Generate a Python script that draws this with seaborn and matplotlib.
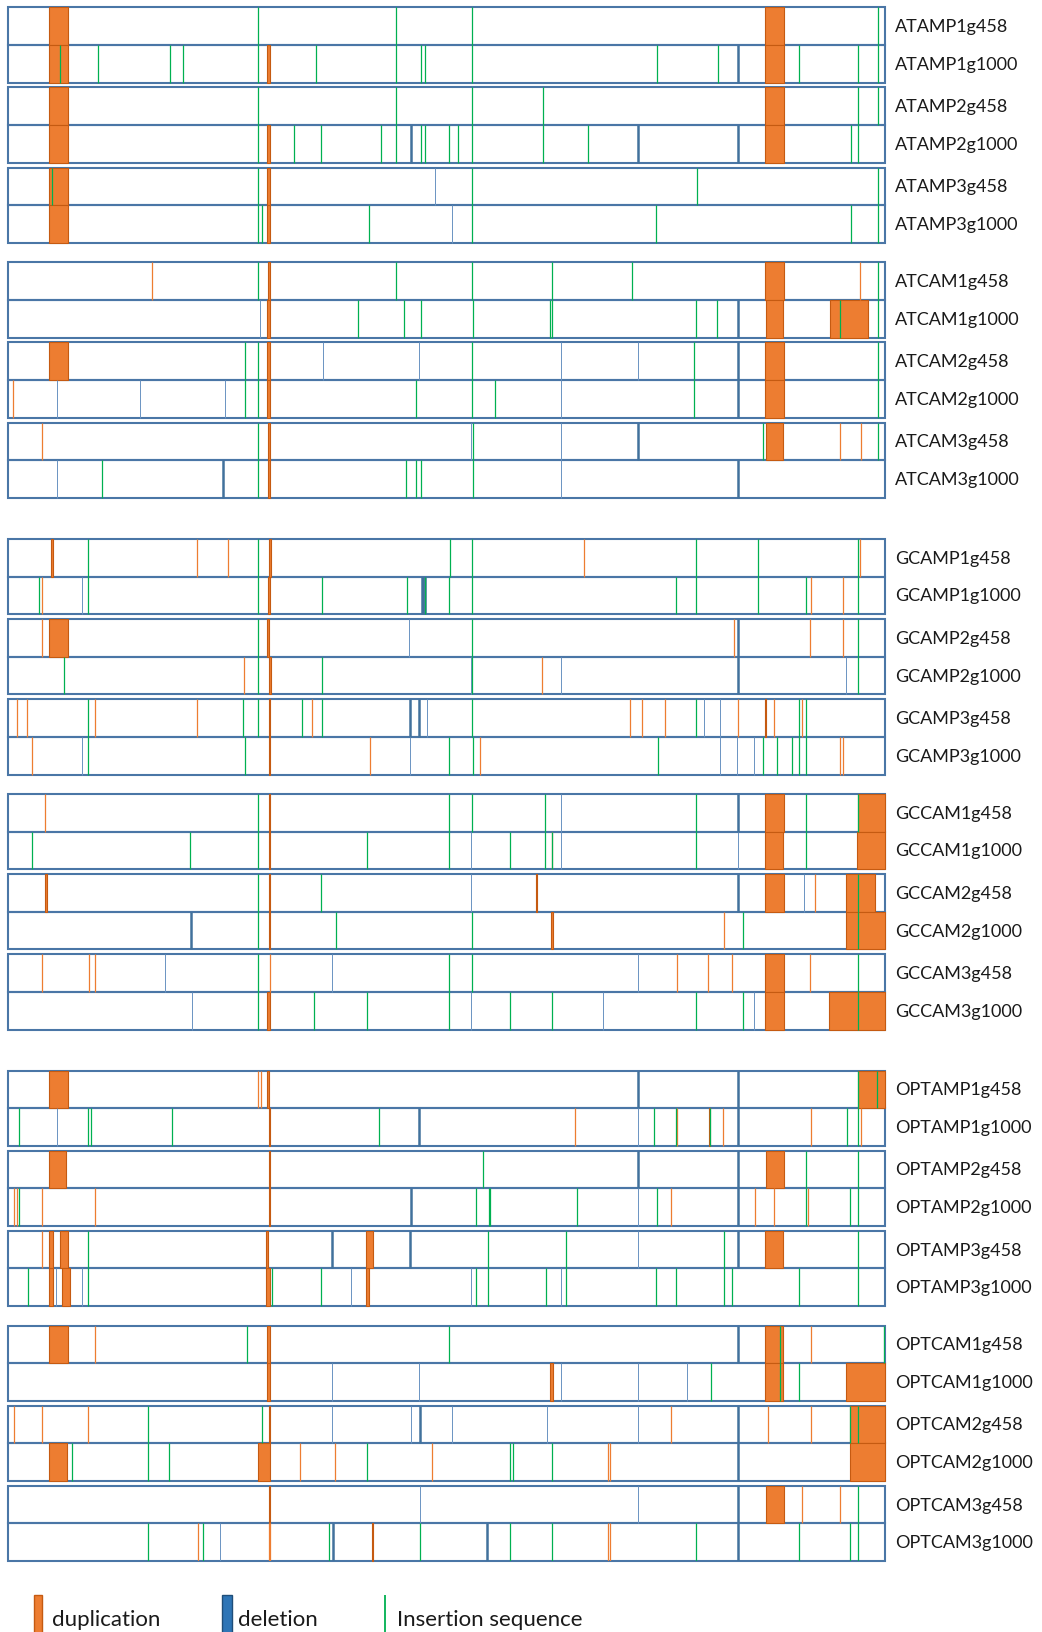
import matplotlib
matplotlib.use('Agg')
import matplotlib.pyplot as plt
import seaborn as sns
from matplotlib.patches import Rectangle

sns.set_style('white')
plt.rcParams['font.family'] = ['Lato', 'DejaVu Sans']

# sample names: line, replicate, generation
LINES = ['ATAMP', 'ATCAM', 'GCAMP', 'GCCAM', 'OPTAMP', 'OPTCAM']
REPLICATES = [1, 2, 3]
GENERATIONS = ['g458', 'g1000']
SAMPLES = [f'{l}{r}{g}' for l in LINES for r in REPLICATES for g in GENERATIONS]

GENOME_START, GENOME_END = 14, 1558

# duplications drawn as filled spans (start, end)
DUP_BARS = {
    'ATAMP1g458': [(87, 120), (1346, 1380)],
    'ATAMP1g1000': [(87, 120), (470, 476), (1346, 1380)],
    'ATAMP2g458': [(87, 120), (1346, 1380)],
    'ATAMP2g1000': [(87, 120), (470, 476), (1346, 1380)],
    'ATAMP3g458': [(87, 120), (470, 476)],
    'ATAMP3g1000': [(87, 120), (470, 476)],
    'ATCAM1g458': [(471, 476), (1346, 1380)],
    'ATCAM1g1000': [(470, 476), (1349, 1378), (1462, 1528)],
    'ATCAM2g458': [(87, 120), (470, 476), (1346, 1380)],
    'ATCAM2g1000': [(470, 476), (1346, 1380)],
    'ATCAM3g458': [(472, 476), (1348, 1378)],
    'ATCAM3g1000': [(472, 476)],
    'GCAMP1g458': [(90, 93), (473, 477)],
    'GCAMP1g1000': [(472, 476)],
    'GCAMP2g458': [(87, 120), (470, 473)],
    'GCAMP2g1000': [(473, 477)],
    'GCAMP3g458': [(473, 476), (1346, 1349)],
    'GCAMP3g1000': [(473, 476)],
    'GCCAM1g458': [(473, 476), (1346, 1380), (1511, 1558)],
    'GCCAM1g1000': [(473, 476), (1347, 1378), (1509, 1558)],
    'GCCAM2g458': [(79, 82), (473, 476), (943, 946), (1346, 1380), (1490, 1540)],
    'GCCAM2g1000': [(473, 476), (970, 973), (1490, 1558)],
    'GCCAM3g458': [(1346, 1380)],
    'GCCAM3g1000': [(470, 476), (1346, 1380), (1460, 1558)],
    'OPTAMP1g458': [(87, 120), (470, 473), (1511, 1558)],
    'OPTAMP1g1000': [(473, 476), (1248, 1250)],
    'OPTAMP2g458': [(87, 116), (473, 476), (1349, 1380)],
    'OPTAMP2g1000': [(473, 476)],
    'OPTAMP3g458': [(87, 94), (105, 120), (469, 472), (644, 656), (1347, 1379)],
    'OPTAMP3g1000': [(87, 93), (109, 124), (469, 476), (644, 650)],
    'OPTCAM1g458': [(87, 120), (470, 476), (1347, 1378)],
    'OPTCAM1g1000': [(470, 476), (969, 973), (1347, 1378), (1490, 1558)],
    'OPTCAM2g458': [(473, 476), (1497, 1558)],
    'OPTCAM2g1000': [(87, 118), (454, 476), (1497, 1558)],
    'OPTCAM3g458': [(473, 476), (1349, 1380)],
    'OPTCAM3g1000': [(654, 657)],
}

# small duplications (single positions)
DUP_LINES = {
    'ATCAM1g458': [267, 1514],
    'ATCAM2g1000': [22],
    'ATCAM3g458': [73, 1479, 1516],
    'GCAMP1g458': [346, 401, 1028, 1514],
    'GCAMP1g1000': [73, 1428, 1484],
    'GCAMP2g458': [73, 1292, 1426, 1484],
    'GCAMP2g1000': [429, 954],
    'GCAMP3g458': [29, 47, 168, 346, 549, 1109, 1130, 1171, 1299, 1363, 1412],
    'GCAMP3g1000': [57, 651, 845, 1479, 1484],
    'GCCAM1g458': [80],
    'GCCAM1g1000': [972],
    'GCCAM2g458': [1435],
    'GCCAM2g1000': [1275],
    'GCCAM3g458': [73, 156, 168, 475, 1192, 1247, 1289, 1426],
    'OPTAMP1g458': [454, 460],
    'OPTAMP1g1000': [1012, 1192, 1273, 1428, 1516],
    'OPTAMP2g1000': [24, 29, 73, 168, 1181, 1329, 1363, 1423],
    'OPTAMP3g458': [73],
    'OPTCAM1g458': [168, 1428],
    'OPTCAM2g458': [24, 73, 154, 1181, 1352, 1427],
    'OPTCAM2g1000': [528, 589, 760, 1070, 1074],
    'OPTCAM3g458': [1412, 1479],
    'OPTCAM3g1000': [348, 473, 476, 1070, 1074],
}

# large deletions
DELETIONS = {
    'ATAMP1g1000': [1300],
    'ATAMP2g1000': [723, 1124, 1300],
    'ATCAM1g1000': [1300],
    'ATCAM2g458': [1300],
    'ATCAM2g1000': [1300],
    'ATCAM3g458': [1124],
    'ATCAM3g1000': [392, 1300],
    'GCAMP1g1000': [742, 745, 748],
    'GCAMP2g458': [1300],
    'GCAMP2g1000': [1299],
    'GCAMP3g458': [722, 738],
    'GCCAM1g458': [1300],
    'GCCAM2g458': [1300],
    'GCCAM2g1000': [336],
    'OPTAMP1g458': [1124, 1300],
    'OPTAMP1g1000': [738, 1300],
    'OPTAMP2g458': [1124, 1300],
    'OPTAMP2g1000': [723, 1300],
    'OPTAMP3g458': [584, 722, 1300],
    'OPTCAM1g458': [1300],
    'OPTCAM2g458': [739, 1300],
    'OPTCAM2g1000': [1300],
    'OPTCAM3g458': [1300],
    'OPTCAM3g1000': [586, 858, 1300],
}

# small deletions
SMALL_DELETIONS = {
    'ATAMP3g458': [765],
    'ATAMP3g1000': [795],
    'ATCAM1g1000': [457],
    'ATCAM2g458': [568, 737, 987, 1123],
    'ATCAM2g1000': [101, 247, 396, 987],
    'ATCAM3g458': [829, 987],
    'ATCAM3g1000': [101, 987],
    'GCAMP1g1000': [144],
    'GCAMP2g458': [720],
    'GCAMP2g1000': [829, 987, 1490],
    'GCAMP3g458': [752, 1240, 1268],
    'GCAMP3g1000': [144, 721, 1268, 1297, 1328],
    'GCCAM1g458': [987],
    'GCCAM1g1000': [829, 987, 1300],
    'GCCAM2g458': [830, 1416],
    'GCCAM3g458': [291, 584, 1123],
    'GCCAM3g1000': [338, 830, 1061, 1328],
    'OPTAMP1g1000': [101, 1124],
    'OPTAMP2g1000': [1124],
    'OPTAMP3g458': [1124],
    'OPTAMP3g1000': [98, 144, 617, 829, 987],
    'OPTCAM1g1000': [584, 737, 987, 1123, 1209],
    'OPTCAM2g458': [584, 723, 795, 963, 1123],
    'OPTCAM3g458': [739, 1123],
    'OPTCAM3g1000': [387],
}

# insertion sequences
INSERTIONS = {
    'ATAMP1g458': [454, 697, 831, 1546],
    'ATAMP1g1000': [106, 172, 300, 322, 454, 556, 697, 741, 749, 831, 1157, 1264, 1407, 1511, 1546],
    'ATAMP2g458': [454, 697, 831, 956, 1511, 1546],
    'ATAMP2g1000': [454, 517, 565, 670, 697, 741, 749, 790, 806, 831, 956, 1035, 1499, 1511],
    'ATAMP3g458': [91, 454, 831, 1227, 1546],
    'ATAMP3g1000': [454, 462, 649, 831, 1155, 1498, 1546],
    'ATCAM1g458': [454, 697, 831, 972, 1112, 1546],
    'ATCAM1g1000': [630, 711, 741, 832, 968, 971, 1225, 1262, 1479, 1546],
    'ATCAM2g458': [432, 454, 831, 1222, 1546],
    'ATCAM2g1000': [432, 454, 732, 831, 871, 1222, 1546],
    'ATCAM3g458': [454, 832, 1343, 1546],
    'ATCAM3g1000': [179, 454, 715, 732, 741, 832],
    'GCAMP1g458': [154, 454, 792, 831, 1225, 1335, 1511],
    'GCAMP1g1000': [68, 154, 454, 567, 716, 749, 790, 831, 1190, 1225, 1335, 1419, 1511],
    'GCAMP2g458': [454, 831, 1511],
    'GCAMP2g1000': [112, 454, 567, 831, 1511],
    'GCAMP3g458': [154, 427, 454, 531, 567, 831, 1225, 1407, 1419],
    'GCAMP3g1000': [154, 431, 790, 832, 1158, 1343, 1368, 1395, 1407, 1419],
    'GCCAM1g458': [454, 790, 831, 959, 1225, 1419, 1511],
    'GCCAM1g1000': [57, 334, 454, 646, 790, 898, 959, 972, 1225, 1419],
    'GCCAM2g458': [454, 565, 1511],
    'GCCAM2g1000': [455, 591, 831, 1308, 1511],
    'GCCAM3g458': [454, 790, 831, 1511],
    'GCCAM3g1000': [454, 552, 646, 790, 898, 972, 1225, 1308, 1511],
    'OPTAMP1g458': [1511, 1544],
    'OPTAMP1g1000': [34, 154, 160, 302, 667, 1151, 1190, 1250, 1491, 1511],
    'OPTAMP2g458': [850, 1419, 1511],
    'OPTAMP2g1000': [34, 838, 860, 863, 1016, 1157, 1419, 1497, 1511],
    'OPTAMP3g458': [154, 859, 996, 1275, 1511],
    'OPTAMP3g1000': [50, 154, 478, 565, 838, 859, 961, 996, 1155, 1190, 1275, 1289, 1407, 1511],
    'OPTCAM1g458': [434, 790, 1373, 1557],
    'OPTCAM1g1000': [1252, 1373, 1407],
    'OPTCAM2g458': [260, 461, 1497, 1511],
    'OPTCAM2g1000': [126, 260, 297, 646, 898, 903, 972],
    'OPTCAM3g458': [1511],
    'OPTCAM3g1000': [260, 357, 579, 739, 898, 972, 1225, 1407, 1497, 1511],
}

ORANGE = '#ED7D31'
DARK_ORANGE = '#C55A11'
GREEN = '#00B050'
BLUE = '#41719C'
LIGHT_BLUE = '#6A93C2'
BORDER = '#4A76A6'

W, H = 1042, 1633
fig = plt.figure(figsize=(W / 100, H / 100), dpi=100)

top, bottom = 8.3, 1562
ax = fig.add_axes([8 / W, 1 - bottom / H, (885 - 8) / W, (bottom - top) / H])
ax.set_xlim(GENOME_START, GENOME_END)
ax.set_ylim(bottom, top)
ax.axis('off')

# vertical layout: pairs of rows, groups of three pairs, blocks of two groups
ROW_H, PAIR_GAP, GROUP_GAP, BLOCK_GAP = 37.7, 4.7, 19.4, 41
row_top = {}
y = top
for i, s in enumerate(SAMPLES):
    row_top[s] = y
    y += ROW_H
    if i % 2 == 1:
        if i % 12 == 11:
            y += BLOCK_GAP
        elif i % 6 == 5:
            y += GROUP_GAP
        else:
            y += PAIR_GAP

for s in SAMPLES:
    y0 = row_top[s]
    y1 = y0 + ROW_H
    ax.add_patch(Rectangle((GENOME_START, y0), GENOME_END - GENOME_START, ROW_H,
                           fill=False, ec=BORDER, lw=1.5, zorder=1, clip_on=False))

    bars = DUP_BARS.get(s, [])
    if bars:
        ax.bar([b[0] for b in bars], ROW_H, width=[b[1] - b[0] for b in bars],
               bottom=y0, align='edge', color=ORANGE, edgecolor=DARK_ORANGE,
               lw=0.8, zorder=2, clip_on=False)
    ax.vlines(DUP_LINES.get(s, []), y0, y1, colors=ORANGE, lw=0.9, zorder=3)
    ax.vlines(SMALL_DELETIONS.get(s, []), y0, y1, colors=LIGHT_BLUE, lw=0.7, zorder=3)
    ax.vlines(DELETIONS.get(s, []), y0, y1, colors=BLUE, lw=1.8, zorder=3)
    ax.vlines(INSERTIONS.get(s, []), y0, y1, colors=GREEN, lw=0.9, zorder=3)

    fig.text(895 / W, 1 - (y0 + ROW_H / 2) / H, s, ha='left', va='center',
             fontsize=13, color='#1a1a1a')

# legend
lax = fig.add_axes([0, 0, 1, 46 / H])
lax.set_xlim(0, W)
lax.set_ylim(H, H - 46)
lax.axis('off')
lax.add_patch(Rectangle((33.5, 1596), 8.8, 40, fc=ORANGE, ec=DARK_ORANGE, lw=1))
lax.add_patch(Rectangle((222, 1596), 9.5, 40, fc='#2E75B6', ec='#1F4E79', lw=1))
lax.vlines([384.6], 1596, 1636, colors=GREEN, lw=1.3)
for x, label in [(52, 'duplication'), (238, 'deletion'), (397, 'Insertion sequence')]:
    lax.text(x, 1626, label, fontsize=16, va='baseline', ha='left', color='#1a1a1a')

fig.savefig('out.png', dpi=100)
